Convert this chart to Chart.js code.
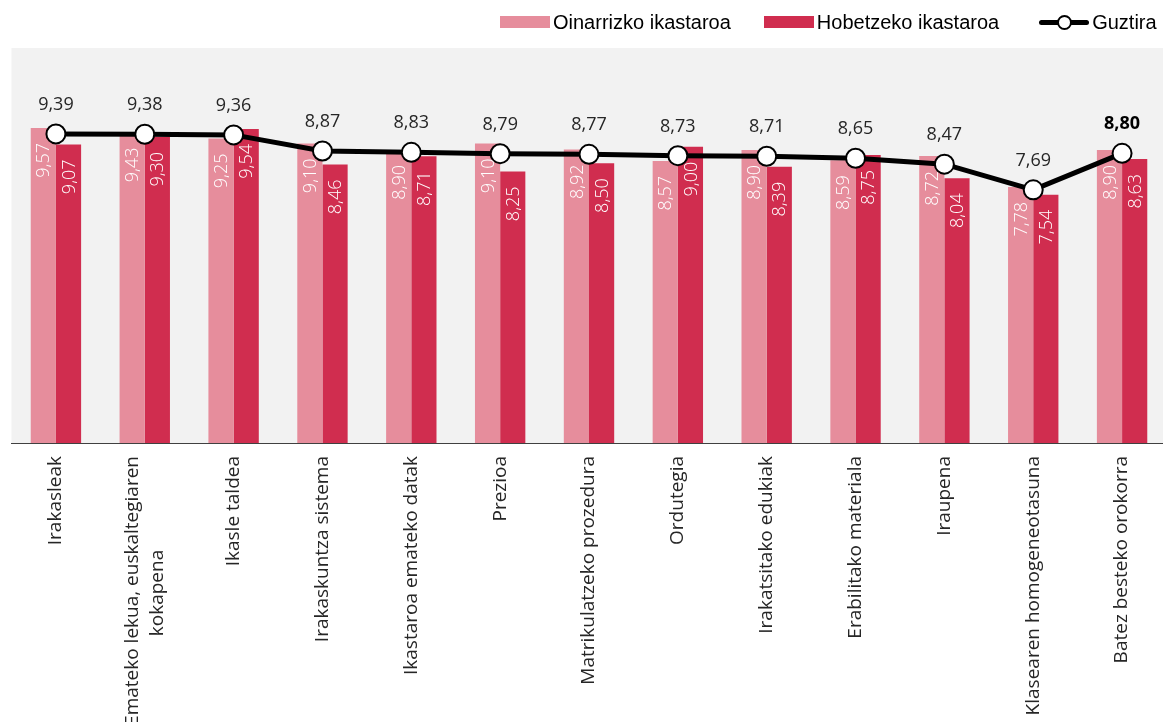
<!DOCTYPE html>
<html>
<head>
<meta charset="utf-8">
<script src="https://cdn.jsdelivr.net/npm/chart.js@4.4.0/dist/chart.umd.min.js"></script>
<style>
  body { margin: 0; background: #fff; }
  #wrap { position: relative; width: 1163px; height: 722px; overflow: hidden; }
  #grafica { position: absolute; left: 0; top: 0; }
  #legend { position: absolute; top: 10px; left: 500px; height: 24px; display: flex; align-items: center;
            font-family: "Liberation Sans", Arial, sans-serif; font-size: 20px; color: #000; }
  .item { display: flex; align-items: center; }
  .box { width: 50px; height: 12px; margin-right: 3px; }
  .lineicon { position: relative; width: 50px; height: 16px; margin-right: 3px; }
  .lineicon .l { position: absolute; left: 0; top: 6px; width: 50px; height: 5px; background: #000; border-radius: 3px; }
  .lineicon .c { position: absolute; left: 18px; top: 1px; width: 11px; height: 11px; border: 2px solid #000; border-radius: 50%; background: #fff; }
</style>
</head>
<body>
<div id="wrap">
  <canvas id="grafica" width="1178" height="722"></canvas>
  <div id="legend">
    <div class="item" style="margin-right:33px"><div class="box" style="background:#e68d9c"></div>Oinarrizko ikastaroa</div>
    <div class="item" style="margin-right:40px"><div class="box" style="background:#d02d4f"></div>Hobetzeko ikastaroa</div>
    <div class="item"><div class="lineicon"><div class="l"></div><div class="c"></div></div>Guztira</div>
  </div>
</div>
<script>
// Etiquetas de las categorías
const etiquetas = [
    "Irakasleak",
    ["Emateko lekua, euskaltegiaren", "kokapena"],
    "Ikasle taldea",
    "Irakaskuntza sistema",
    "Ikastaroa emateko datak",
    "Prezioa",
    "Matrikulatzeko prozedura",
    "Ordutegia",
    "Irakatsitako edukiak",
    "Erabilitako materiala",
    "Iraupena",
    "Klasearen homogeneotasuna",
    "Batez besteko orokorra"
];
const oinarrizko = [9.57, 9.43, 9.25, 9.10, 8.90, 9.10, 8.92, 8.57, 8.90, 8.59, 8.72, 7.78, 8.90];
const hobetzeko  = [9.07, 9.30, 9.54, 8.46, 8.71, 8.25, 8.50, 9.00, 8.39, 8.75, 8.04, 7.54, 8.63];
const guztira    = [9.39, 9.38, 9.36, 8.87, 8.83, 8.79, 8.77, 8.73, 8.71, 8.65, 8.47, 7.69, 8.80];

const koma = v => v.toFixed(2).replace('.', ',');
const fuenteTicks = '19px "Open Sans"';

// Para centrar las líneas de una etiqueta de varias líneas
const medir = document.createElement('canvas').getContext('2d');
function centrarLineas(lineas) {
    medir.font = fuenteTicks;
    const anchos = lineas.map(s => medir.measureText(s).width);
    const max = Math.max(...anchos);
    const esp = medir.measureText(' ').width;
    return lineas.map((s, i) => s + ' '.repeat(Math.round((max - anchos[i]) / 2 / esp)));
}

// Fondo gris del área de la gráfica + centrar el bloque de etiquetas de varias líneas
const fondo = {
    id: 'fondo',
    beforeDraw(chart) {
        const { ctx, chartArea: a } = chart;
        ctx.save();
        ctx.fillStyle = '#f2f2f2';
        ctx.fillRect(a.left, a.top, a.right - a.left, a.bottom - a.top);
        ctx.restore();
        const x = chart.scales.x;
        x.getLabelItems(a).forEach(it => {
            if (Array.isArray(it.label) && !it._movido) {
                it.options.translation[0] -= it.font.lineHeight * (it.label.length - 1) / 2;
                it._movido = true;
            }
        });
    }
};

// Etiquetas de valores
const valores = {
    id: 'valores',
    afterDatasetsDraw(chart) {
        const ctx = chart.ctx;
        chart.data.datasets.forEach((ds, i) => {
            const meta = chart.getDatasetMeta(i);
            meta.data.forEach((el, j) => {
                const txt = koma(ds.data[j]);
                ctx.save();
                if (ds.type === 'line') {
                    const last = j === ds.data.length - 1;
                    ctx.font = (last ? 'bold ' : '') + '18px "Open Sans"';
                    ctx.fillStyle = last ? '#000' : '#262626';
                    ctx.textAlign = 'center';
                    ctx.textBaseline = 'middle';
                    ctx.fillText(txt, el.x, el.y - 29);
                } else {
                    ctx.font = '300 18px "Open Sans"';
                    ctx.fillStyle = '#ffffff';
                    ctx.translate(el.x, el.y + 15);
                    ctx.rotate(-Math.PI / 2);
                    ctx.textAlign = 'right';
                    ctx.textBaseline = 'middle';
                    ctx.fillText(txt, 0, 1);
                }
                ctx.restore();
            });
        });
    }
};

new Chart(document.querySelector('#grafica'), {
    type: 'bar',
    data: {
        labels: etiquetas,
        datasets: [
            {
                type: 'line',
                label: 'Guztira',
                data: guztira,
                borderColor: '#000',
                borderWidth: 5,
                pointRadius: 9.5,
                pointBackgroundColor: '#fff',
                pointBorderColor: '#000',
                pointBorderWidth: 2,
                tension: 0,
                order: 0
            },
            {
                label: 'Oinarrizko ikastaroa',
                data: oinarrizko,
                backgroundColor: '#e68d9c',
                order: 1
            },
            {
                label: 'Hobetzeko ikastaroa',
                data: hobetzeko,
                backgroundColor: '#d02d4f',
                order: 1
            }
        ]
    },
    options: {
        responsive: false,
        animation: false,
        devicePixelRatio: 1,
        layout: { padding: { top: 48, left: 8, right: 0, bottom: 0 } },
        plugins: { legend: { display: false }, tooltip: { enabled: false } },
        datasets: { bar: { categoryPercentage: 0.567, barPercentage: 1 } },
        scales: {
            x: {
                grid: { display: false },
                border: { color: '#404040', width: 1 },
                ticks: {
                    color: '#262626',
                    font: { family: '"Open Sans"', size: 19, lineHeight: 1.3 },
                    minRotation: 90,
                    maxRotation: 90,
                    padding: 5,
                    autoSkip: false,
                    callback: (v, i) => Array.isArray(etiquetas[i]) ? centrarLineas(etiquetas[i]) : etiquetas[i]
                },
                afterFit(scale) {
                    scale.height = 279;
                    scale.paddingLeft = 0;
                    scale.paddingRight = 0;
                }
            },
            y: { display: false, min: 0, max: 12 }
        }
    },
    plugins: [fondo, valores]
});
</script>
</body>
</html>
